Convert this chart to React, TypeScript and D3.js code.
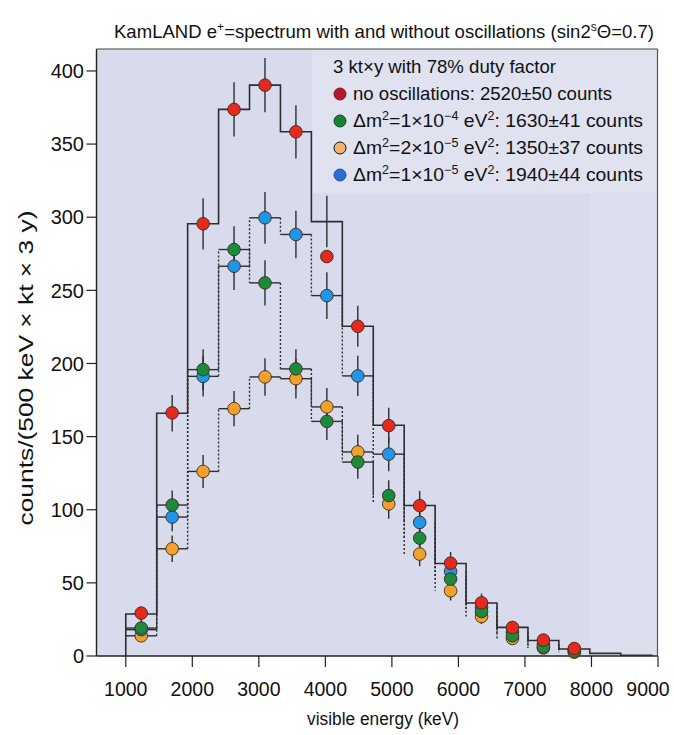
import React from 'react';
import * as d3 from 'd3';

// ---- data ----
const binEdgesKeV = [1000, 1465, 1930, 2395, 2860, 3325, 3790, 4255, 4720, 5185, 5650, 6115, 6580, 7045, 7510, 7975, 8440, 8905];

// expected spectrum without oscillations (solid step line)
const noOscHistogram = [28.7, 166, 295.5, 373.7, 390.3, 358.4, 297, 225.4, 157.8, 102.9, 63.2, 36.2, 19.6, 10.6, 4.8, 1.8, 0.5];

// points (one per bin, first 15 bins)
const noOscCounts = [29.3, 166.2, 295.5, 373.7, 390.3, 358.4, 273.1, 225.4, 157.5, 102.8, 63.5, 36.4, 19.5, 10.9, 5.1];
const noOscErrors = [5.2, 12.5, 17.5, 18.5, 18.6, 18.2, 17.6, 14, 12, 10, 8, 6.5, 4.2, 3.3, 2.2];

const dm1e4Counts = [19.1, 103.2, 195.8, 277.9, 255.1, 196.3, 160.4, 132.6, 109.7, 80.6, 52.6, 30.4, 13.8, 6.1, 3.2];
const dm1e4Errors = [4.4, 10, 14, 16, 15.4, 13.5, 12.7, 11.5, 10.5, 9, 7.3, 5.5, 3.7, 2.5, 1.8];

const dm2e5Counts = [13.8, 73.3, 126.2, 169.1, 190.8, 189.6, 170.3, 139.5, 104, 69.7, 44.6, 27, 12, 5.5, 2.6];
const dm2e5Errors = [3.7, 9, 11.3, 12, 12.8, 13.5, 13, 11.8, 10.2, 8.3, 6.7, 5.2, 3.5, 2.3, 1.6];

const dm1e5Counts = [18, 95, 191.2, 266.5, 299.6, 288.2, 246.4, 191.5, 138, 91.3, 57.8, 33.4, 16.3, 8.1, 4];
const dm1e5Errors = [4.2, 9.7, 13.8, 16.3, 17.7, 16.2, 16, 13.8, 11.7, 9.5, 7.6, 5.8, 4, 2.8, 2];

// number of leading bins whose horizontal step is drawn for each oscillation curve
const dm1e4StepBins = 8;
const dm2e5StepBins = 8;
const dm1e5StepBins = 9;

const xTicks = [1000, 2000, 3000, 4000, 5000, 6000, 7000, 8000, 9000];
const yTicks = [0, 50, 100, 150, 200, 250, 300, 350, 400];

const W = 674;
const H = 735;
const FONT = '"Liberation Sans", Arial, Helvetica, sans-serif';

const COL = {
  red: '#e5291c',
  green: '#1c8a3a',
  orange: '#f4a12b',
  blue: '#2097e6',
  line: '#2e2e2e',
};

export default function App() {
  const left = 96.5, right = 657.5, top = 49, bottom = 656;
  const x = d3.scaleLinear().domain([560, 9000]).range([left, 658]);
  const y = d3.scaleLinear().domain([0, 415]).range([bottom, top]);

  const centers = binEdgesKeV.slice(0, -1).map((e, i) => (e + binEdgesKeV[i + 1]) / 2);

  // solid step histogram
  const solidPath = (() => {
    const p = d3.path();
    p.moveTo(x(binEdgesKeV[0]), y(0));
    noOscHistogram.forEach((v, i) => {
      p.lineTo(x(binEdgesKeV[i]), y(v));
      p.lineTo(x(binEdgesKeV[i + 1]), y(v));
    });
    p.lineTo(x(binEdgesKeV[noOscHistogram.length]), y(0));
    return p.toString();
  })();

  const oscSeries = [
    { key: 'orange', counts: dm2e5Counts, errors: dm2e5Errors, steps: dm2e5StepBins, color: COL.orange },
    { key: 'blue', counts: dm1e5Counts, errors: dm1e5Errors, steps: dm1e5StepBins, color: COL.blue },
    { key: 'green', counts: dm1e4Counts, errors: dm1e4Errors, steps: dm1e4StepBins, color: COL.green },
  ];

  const oscLines: JSX.Element[] = [];
  oscSeries.forEach((s) => {
    s.counts.forEach((v, i) => {
      if (i < s.steps) {
        oscLines.push(
          <line key={`${s.key}-h-${i}`} x1={x(binEdgesKeV[i])} x2={x(binEdgesKeV[i + 1])} y1={y(v)} y2={y(v)}
            stroke={COL.line} strokeWidth={1.4} />
        );
      }
      if (i > 0) {
        oscLines.push(
          <line key={`${s.key}-v-${i}`} x1={x(binEdgesKeV[i])} x2={x(binEdgesKeV[i])} y1={y(s.counts[i - 1])} y2={y(v)}
            stroke={COL.line} strokeWidth={1.4} strokeDasharray="2,2" />
        );
      }
    });
  });

  const errorBars: JSX.Element[] = [];
  noOscCounts.forEach((_, i) => {
    const c = noOscHistogram[i];
    const e = noOscErrors[i];
    errorBars.push(<line key={`red-e-${i}`} x1={x(centers[i])} x2={x(centers[i])} y1={y(c - e)} y2={y(c + e)} stroke={COL.line} strokeWidth={1.4} />);
  });
  oscSeries.forEach((s) => {
    s.counts.forEach((v, i) => {
      errorBars.push(<line key={`${s.key}-e-${i}`} x1={x(centers[i])} x2={x(centers[i])} y1={y(v - s.errors[i])} y2={y(v + s.errors[i])} stroke={COL.line} strokeWidth={1.4} />);
    });
  });

  const pointSeries = [...oscSeries, { key: 'red', counts: noOscCounts, color: COL.red }];

  const legendRows = [
    { color: '#b3182f', stroke: '#8a1020', parts: [['no oscillations: 2520±50 counts', 0]] },
    { color: '#17813a', stroke: '#0c4a1e', parts: [['Δm', 0], ['2', 1], ['=1×10', 0], ['−4', 1], [' eV', 0], ['2', 1], [': 1630±41 counts', 0]] },
    { color: '#f1b36e', stroke: '#111', parts: [['Δm', 0], ['2', 1], ['=2×10', 0], ['−5', 1], [' eV', 0], ['2', 1], [': 1350±37 counts', 0]] },
    { color: '#2d6fd1', stroke: '#1d4f9a', parts: [['Δm', 0], ['2', 1], ['=1×10', 0], ['−5', 1], [' eV', 0], ['2', 1], [': 1940±44 counts', 0]] },
  ];
  const legendWidths = [259, 290, 290, 290];

  const renderParts = (parts: any[]) => {
    const out: JSX.Element[] = [];
    let sup = false;
    parts.forEach(([t, s], i) => {
      let dy = 0;
      if (s && !sup) dy = -7;
      if (!s && sup) dy = 7;
      sup = !!s;
      out.push(<tspan key={i} dy={dy} fontSize={s ? 12 : 18.5}>{t}</tspan>);
    });
    return out;
  };

  return (
    <svg width={W} height={H} style={{ position: 'absolute', left: 0, top: 0, background: '#fff' }} fontFamily={FONT}>
      <rect x={0} y={0} width={W} height={H} fill="#ffffff" />
      {/* plot background */}
      <rect x={left} y={top} width={right - left} height={bottom - top} fill="#d8dbec" />
      <rect x={312} y={top} width={right - 312} height={144} fill="#e0e2f0" />
      <rect x={590} y={193} width={right - 590} height={bottom - 193} fill="#dcdfee" />

      {/* title */}
      <text x={114} y={38} fontSize={18.5} fill="#111" textLength={540} lengthAdjust="spacingAndGlyphs">
        <tspan>KamLAND e</tspan>
        <tspan dy={-7} fontSize={12}>+</tspan>
        <tspan dy={7}>=spectrum with and without oscillations (sin2</tspan>
        <tspan dy={-7} fontSize={12}>s</tspan>
        <tspan dy={7}>Θ=0.7)</tspan>
      </text>

      {/* frame */}
      <line x1={left} x2={right} y1={top} y2={top} stroke="#444" strokeWidth={1.2} />
      <line x1={right} x2={right} y1={top} y2={bottom} stroke="#555" strokeWidth={1.2} />
      <line x1={left} x2={left} y1={top} y2={bottom} stroke="#222" strokeWidth={1.4} />
      <line x1={left} x2={right} y1={bottom} y2={bottom} stroke="#222" strokeWidth={1.4} />

      {/* y axis ticks */}
      {yTicks.map((t) => (
        <g key={`yt${t}`}>
          <line x1={left - 10} x2={left} y1={y(t)} y2={y(t)} stroke="#222" strokeWidth={1.2} />
          <text x={84} y={y(t)} dy="0.36em" textAnchor="end" fontSize={20} fill="#111">{t}</text>
        </g>
      ))}
      {/* x axis ticks */}
      {xTicks.map((t) => (
        <g key={`xt${t}`}>
          <line x1={x(t)} x2={x(t)} y1={bottom} y2={bottom + 11} stroke="#222" strokeWidth={1.2} />
          <text x={Math.min(x(t), 648)} y={696} textAnchor="middle" fontSize={19.5} fill="#111">{t}</text>
        </g>
      ))}

      <text x={383} y={725} textAnchor="middle" fontSize={17.5} fill="#111" textLength={152} lengthAdjust="spacingAndGlyphs">visible energy (keV)</text>
      <text transform={`translate(33,368) rotate(-90)`} textAnchor="middle" fontSize={20} fill="#111" textLength={315} lengthAdjust="spacingAndGlyphs">counts/(500 keV × kt × 3 y)</text>

      {/* histograms */}
      {oscLines}
      <path d={solidPath} fill="none" stroke={COL.line} strokeWidth={1.6} />

      {/* error bars */}
      {errorBars}

      {/* points */}
      {pointSeries.map((s) => (
        <g key={`pts-${s.key}`}>
          {s.counts.map((v, i) => (
            <circle key={i} cx={x(centers[i])} cy={y(v)} r={6.3} fill={s.color} stroke="#3b2a22" strokeWidth={0.9} />
          ))}
        </g>
      ))}

      {/* legend */}
      <text x={333} y={73} fontSize={18.5} fill="#111" textLength={223} lengthAdjust="spacingAndGlyphs">3 kt×y with 78% duty factor</text>
      {legendRows.map((r, i) => {
        const by = 100 + i * 27;
        return (
          <g key={`lg${i}`}>
            <circle cx={340} cy={by - 6} r={6} fill={r.color} stroke={r.stroke} strokeWidth={1} />
            <text x={353} y={by} fontSize={18.5} fill="#111" textLength={legendWidths[i]} lengthAdjust="spacingAndGlyphs">
              {renderParts(r.parts)}
            </text>
          </g>
        );
      })}
    </svg>
  );
}
